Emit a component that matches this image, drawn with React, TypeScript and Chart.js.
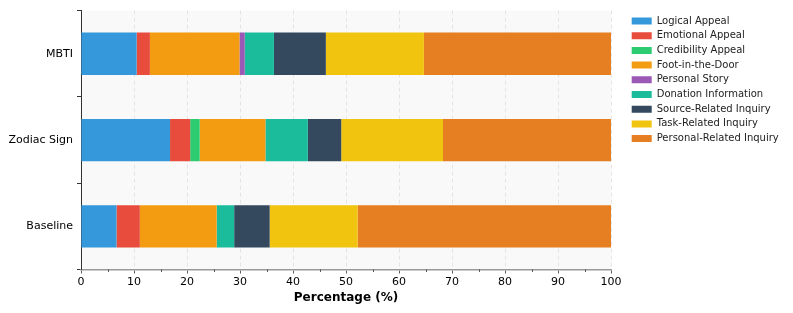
import React, { useEffect, useRef } from 'react';
import { Chart, registerables } from 'chart.js';

Chart.register(...registerables);

const categories = ['MBTI', 'Zodiac Sign', 'Baseline'];
const seriesNames = [
  'Logical Appeal',
  'Emotional Appeal',
  'Credibility Appeal',
  'Foot-in-the-Door',
  'Personal Story',
  'Donation Information',
  'Source-Related Inquiry',
  'Task-Related Inquiry',
  'Personal-Related Inquiry',
];
const logicalAppeal = [10.5, 16.8, 6.7];
const emotionalAppeal = [2.5, 3.8, 4.4];
const credibilityAppeal = [0, 1.8, 0];
const footInTheDoor = [16.9, 12.4, 14.5];
const personalStory = [1.0, 0, 0];
const donationInformation = [5.5, 8.0, 3.3];
const sourceRelatedInquiry = [9.8, 6.3, 6.7];
const taskRelatedInquiry = [18.5, 19.2, 16.6];
const personalRelatedInquiry = [35.3, 31.7, 47.8];
const seriesValues = [
  logicalAppeal,
  emotionalAppeal,
  credibilityAppeal,
  footInTheDoor,
  personalStory,
  donationInformation,
  sourceRelatedInquiry,
  taskRelatedInquiry,
  personalRelatedInquiry,
];
const seriesColors = [
  '#3498db',
  '#e74c3c',
  '#2ecc71',
  '#f39c12',
  '#9b59b6',
  '#1abc9c',
  '#34495e',
  '#f1c40f',
  '#e67e22',
];
const minorTickValues = [5, 15, 25, 35, 45, 55, 65, 75, 85, 95];

const plotBg = {
  id: 'plotBg',
  beforeDraw(chart: any) {
    const { ctx, chartArea } = chart;
    ctx.save();
    ctx.fillStyle = '#f9f9f9';
    ctx.fillRect(chartArea.left, chartArea.top, chartArea.right - chartArea.left, chartArea.bottom - chartArea.top);
    ctx.restore();
  },
};

const minorTicks = {
  id: 'minorTicks',
  afterDraw(chart: any) {
    const s = chart.scales.x;
    const ctx = chart.ctx;
    ctx.save();
    ctx.strokeStyle = '#333';
    ctx.lineWidth = 0.8;
    for (const v of minorTickValues) {
      const px = Math.round(s.getPixelForValue(v)) + 0.5;
      ctx.beginPath();
      ctx.moveTo(px, s.top);
      ctx.lineTo(px, s.top + 2.5);
      ctx.stroke();
    }
    ctx.restore();
  },
};

const legendPlacement = {
  id: 'legendPlacement',
  afterInit(chart: any) {
    const lg = chart.legend;
    if (!lg) return;
    const origFit = lg.fit;
    lg.fit = function () {
      origFit.call(this);
      this.width = 182;
    };
  },
  afterLayout(chart: any) {
    const lg = chart.legend;
    if (!lg) return;
    lg.left = chart.chartArea.right + 16;
    lg.top = 11.3;
  },
};

export default function App() {
  const ref = useRef<HTMLCanvasElement>(null);
  useEffect(() => {
    if (!ref.current) return;
    Chart.defaults.font.family = "'DejaVu Sans', sans-serif";
    const chart = new Chart(ref.current, {
      type: 'bar',
      data: {
        labels: categories,
        datasets: seriesNames.map((name, i) => ({
          label: name,
          data: seriesValues[i],
          backgroundColor: seriesColors[i],
          borderWidth: 0,
          barPercentage: 0.49,
          categoryPercentage: 1,
        })),
      },
      options: {
        indexAxis: 'y',
        animation: false,
        responsive: false,
        devicePixelRatio: 1,
        layout: { padding: { top: 7.3, right: 0, bottom: 0, left: 0 } },
        plugins: {
          legend: {
            position: 'right',
            align: 'start',
            labels: {
              boxWidth: 20,
              boxHeight: 7,
              padding: 4.7,
              color: '#222',
              font: { size: 10 },
            },
          },
          tooltip: { enabled: false },
        },
        scales: {
          x: {
            stacked: true,
            min: 0,
            max: 100,
            ticks: { stepSize: 10, color: '#000', font: { size: 11 }, padding: 2 },
            grid: { color: '#dedede', tickColor: '#333', tickLength: 4, lineWidth: 0.8 },
            border: { dash: [4, 3], color: '#999', width: 1.5 },
            title: {
              display: true,
              text: 'Percentage (%)',
              color: '#000',
              font: { size: 12, weight: 'bold' },
              padding: { top: 2, bottom: 8 },
            },
            afterFit(scale: any) {
              scale.height = 43.5;
            },
          },
          y: {
            stacked: true,
            ticks: { color: '#000', font: { size: 11 }, padding: 4 },
            grid: { drawOnChartArea: false, tickColor: '#333', tickLength: 4 },
            border: { color: '#333', width: 1 },
            afterFit(scale: any) {
              scale.width = 81;
            },
          },
        },
      },
      plugins: [plotBg, minorTicks, legendPlacement],
    });
    return () => chart.destroy();
  }, []);
  return (
    <div style={{ position: 'fixed', left: 0, top: 0, width: 793, height: 313, background: '#fff' }}>
      <canvas ref={ref} width={793} height={313} style={{ display: 'block' }} />
    </div>
  );
}
